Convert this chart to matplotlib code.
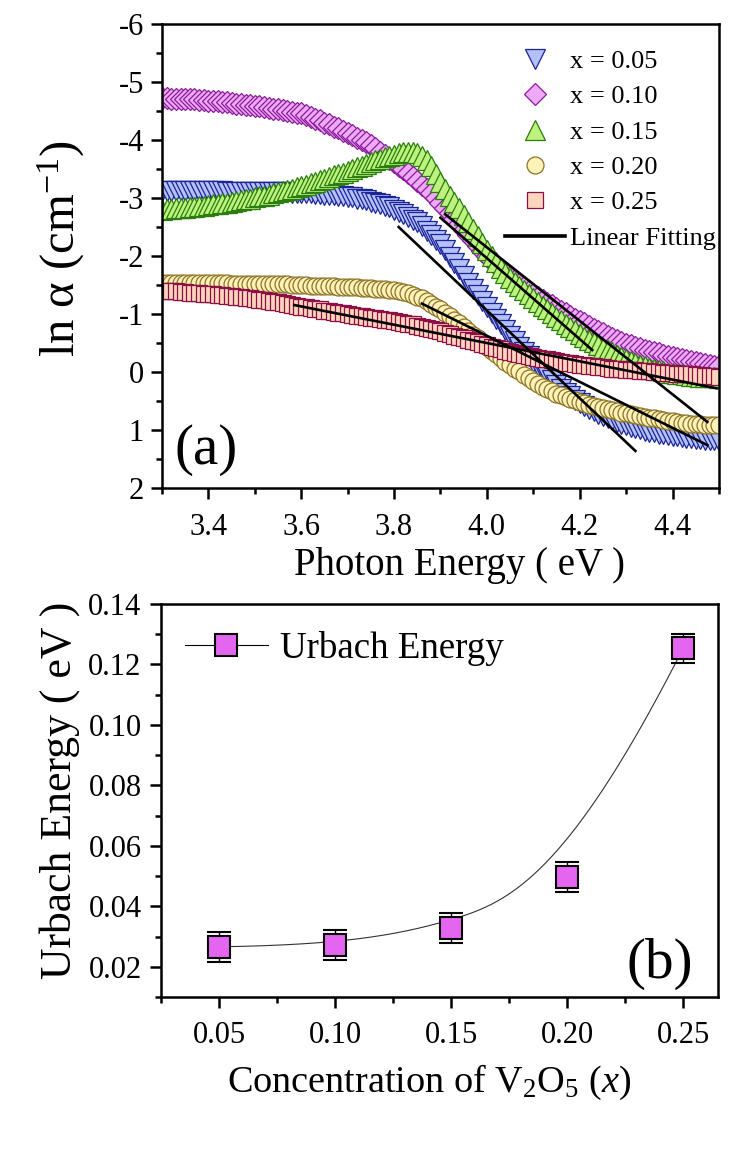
import numpy as np
import matplotlib
matplotlib.use("Agg")
import matplotlib.pyplot as plt
from matplotlib.lines import Line2D
from matplotlib.ticker import MultipleLocator, FormatStrFormatter

plt.rcParams["font.family"] = "Liberation Serif"
plt.rcParams["mathtext.fontset"] = "custom"
plt.rcParams["mathtext.rm"] = "Liberation Serif"
plt.rcParams["mathtext.it"] = "Liberation Serif:italic"
plt.rcParams["axes.unicode_minus"] = False

# photon energy grid of the absorption scans (eV)
energy = [3.30, 3.31, 3.32, 3.33, 3.34, 3.35, 3.36, 3.37, 3.38, 3.39, 3.40,
          3.41, 3.42, 3.43, 3.44, 3.45, 3.46, 3.47, 3.48, 3.49, 3.50,
          3.51, 3.52, 3.53, 3.54, 3.55, 3.56, 3.57, 3.58, 3.59, 3.60,
          3.61, 3.62, 3.63, 3.64, 3.65, 3.66, 3.67, 3.68, 3.69, 3.70,
          3.71, 3.72, 3.73, 3.74, 3.75, 3.76, 3.77, 3.78, 3.79, 3.80,
          3.81, 3.82, 3.83, 3.84, 3.85, 3.86, 3.87, 3.88, 3.89, 3.90,
          3.91, 3.92, 3.93, 3.94, 3.95, 3.96, 3.97, 3.98, 3.99, 4.00,
          4.01, 4.02, 4.03, 4.04, 4.05, 4.06, 4.07, 4.08, 4.09, 4.10,
          4.11, 4.12, 4.13, 4.14, 4.15, 4.16, 4.17, 4.18, 4.19, 4.20,
          4.21, 4.22, 4.23, 4.24, 4.25, 4.26, 4.27, 4.28, 4.29, 4.30,
          4.31, 4.32, 4.33, 4.34, 4.35, 4.36, 4.37, 4.38, 4.39, 4.40,
          4.41, 4.42, 4.43, 4.44, 4.45, 4.46, 4.47, 4.48, 4.49, 4.50]

# ln(alpha) for each V2O5 content
ln_a_005 = [-3.12, -3.12, -3.12, -3.12, -3.12, -3.12, -3.12, -3.12, -3.12, -3.12, -3.12,
            -3.12, -3.12, -3.12, -3.11, -3.11, -3.11, -3.11, -3.11, -3.11, -3.11,
            -3.11, -3.11, -3.10, -3.10, -3.10, -3.10, -3.10, -3.09, -3.09, -3.09,
            -3.08, -3.08, -3.07, -3.07, -3.06, -3.05, -3.05, -3.04, -3.03, -3.02,
            -3.01, -2.99, -2.98, -2.96, -2.94, -2.92, -2.89, -2.87, -2.84, -2.80,
            -2.76, -2.72, -2.68, -2.63, -2.58, -2.51, -2.43, -2.36, -2.28, -2.20,
            -2.10, -1.99, -1.88, -1.77, -1.65, -1.54, -1.44, -1.33, -1.22, -1.12,
            -1.02, -0.92, -0.82, -0.72, -0.62, -0.53, -0.44, -0.35, -0.27, -0.18,
            -0.10, -0.02, 0.06, 0.14, 0.22, 0.29, 0.36, 0.42, 0.48, 0.54,
            0.59, 0.64, 0.68, 0.72, 0.76, 0.80, 0.83, 0.86, 0.89, 0.92,
            0.94, 0.96, 0.99, 1.01, 1.03, 1.04, 1.06, 1.07, 1.09, 1.10,
            1.11, 1.12, 1.13, 1.14, 1.15, 1.16, 1.17, 1.17, 1.18, 1.19]
ln_a_010 = [-4.72, -4.72, -4.71, -4.71, -4.71, -4.70, -4.70, -4.70, -4.69, -4.69, -4.68,
            -4.67, -4.67, -4.66, -4.65, -4.64, -4.63, -4.62, -4.61, -4.60, -4.59,
            -4.58, -4.57, -4.55, -4.54, -4.53, -4.52, -4.50, -4.49, -4.47, -4.46,
            -4.43, -4.40, -4.37, -4.34, -4.30, -4.27, -4.23, -4.20, -4.16, -4.12,
            -4.08, -4.04, -4.00, -3.96, -3.92, -3.86, -3.80, -3.74, -3.68, -3.62,
            -3.56, -3.50, -3.44, -3.37, -3.30, -3.23, -3.16, -3.08, -3.00, -2.92,
            -2.83, -2.74, -2.64, -2.55, -2.45, -2.36, -2.27, -2.18, -2.09, -2.00,
            -1.92, -1.85, -1.78, -1.71, -1.64, -1.58, -1.52, -1.46, -1.40, -1.34,
            -1.29, -1.24, -1.19, -1.15, -1.10, -1.06, -1.01, -0.97, -0.92, -0.88,
            -0.84, -0.80, -0.75, -0.71, -0.67, -0.63, -0.59, -0.55, -0.52, -0.48,
            -0.46, -0.43, -0.41, -0.38, -0.36, -0.34, -0.32, -0.30, -0.28, -0.26,
            -0.24, -0.22, -0.21, -0.19, -0.17, -0.16, -0.14, -0.13, -0.11, -0.10]
ln_a_015 = [-2.80, -2.81, -2.81, -2.82, -2.82, -2.83, -2.84, -2.85, -2.86, -2.87, -2.88,
            -2.89, -2.90, -2.91, -2.92, -2.94, -2.95, -2.96, -2.98, -2.99, -3.01,
            -3.03, -3.04, -3.06, -3.08, -3.10, -3.12, -3.14, -3.16, -3.19, -3.21,
            -3.23, -3.26, -3.28, -3.31, -3.33, -3.36, -3.39, -3.41, -3.44, -3.47,
            -3.50, -3.53, -3.56, -3.59, -3.62, -3.65, -3.68, -3.70, -3.73, -3.75,
            -3.77, -3.79, -3.80, -3.80, -3.78, -3.73, -3.65, -3.55, -3.42, -3.28,
            -3.16, -3.04, -2.93, -2.82, -2.70, -2.58, -2.46, -2.34, -2.22, -2.10,
            -2.00, -1.90, -1.80, -1.71, -1.62, -1.55, -1.48, -1.41, -1.34, -1.27,
            -1.20, -1.14, -1.08, -1.01, -0.95, -0.89, -0.83, -0.77, -0.72, -0.66,
            -0.61, -0.56, -0.51, -0.47, -0.42, -0.38, -0.34, -0.30, -0.26, -0.22,
            -0.19, -0.16, -0.13, -0.10, -0.07, -0.05, -0.03, -0.01, 0.01, 0.02,
            0.03, 0.04, 0.05, 0.06, 0.07, 0.08, 0.08, 0.09, 0.09, 0.10]
ln_a_020 = [-1.54, -1.54, -1.54, -1.54, -1.54, -1.54, -1.53, -1.53, -1.53, -1.53, -1.53,
            -1.53, -1.53, -1.53, -1.53, -1.52, -1.52, -1.52, -1.52, -1.52, -1.52,
            -1.52, -1.52, -1.51, -1.51, -1.51, -1.51, -1.51, -1.50, -1.50, -1.50,
            -1.50, -1.49, -1.49, -1.49, -1.48, -1.48, -1.48, -1.47, -1.47, -1.47,
            -1.46, -1.46, -1.45, -1.45, -1.45, -1.44, -1.44, -1.43, -1.42, -1.41,
            -1.40, -1.38, -1.36, -1.33, -1.30, -1.27, -1.23, -1.18, -1.13, -1.08,
            -1.02, -0.96, -0.90, -0.84, -0.78, -0.71, -0.64, -0.58, -0.51, -0.44,
            -0.37, -0.31, -0.24, -0.18, -0.12, -0.06, -0.01, 0.05, 0.11, 0.16,
            0.21, 0.25, 0.29, 0.33, 0.37, 0.40, 0.43, 0.46, 0.49, 0.52,
            0.54, 0.56, 0.58, 0.60, 0.62, 0.64, 0.66, 0.68, 0.70, 0.71,
            0.73, 0.74, 0.76, 0.77, 0.79, 0.80, 0.81, 0.82, 0.84, 0.85,
            0.86, 0.87, 0.88, 0.89, 0.90, 0.90, 0.91, 0.91, 0.92, 0.92]
ln_a_025 = [-1.40, -1.40, -1.39, -1.39, -1.38, -1.38, -1.37, -1.37, -1.36, -1.35, -1.35,
            -1.34, -1.33, -1.32, -1.31, -1.31, -1.30, -1.29, -1.28, -1.27, -1.26,
            -1.25, -1.24, -1.23, -1.21, -1.20, -1.19, -1.17, -1.16, -1.14, -1.13,
            -1.12, -1.10, -1.09, -1.08, -1.06, -1.05, -1.04, -1.02, -1.01, -1.00,
            -0.99, -0.97, -0.96, -0.95, -0.94, -0.93, -0.92, -0.90, -0.89, -0.88,
            -0.86, -0.85, -0.83, -0.82, -0.80, -0.78, -0.76, -0.74, -0.72, -0.70,
            -0.68, -0.65, -0.63, -0.60, -0.58, -0.56, -0.53, -0.51, -0.48, -0.46,
            -0.44, -0.41, -0.39, -0.37, -0.35, -0.33, -0.31, -0.29, -0.28, -0.26,
            -0.24, -0.23, -0.22, -0.20, -0.19, -0.18, -0.16, -0.15, -0.14, -0.13,
            -0.12, -0.11, -0.10, -0.09, -0.08, -0.07, -0.06, -0.06, -0.05, -0.04,
            -0.03, -0.03, -0.02, -0.01, -0.01, 0.00, 0.00, 0.01, 0.01, 0.02,
            0.03, 0.03, 0.04, 0.04, 0.05, 0.05, 0.06, 0.07, 0.07, 0.08]

series_labels = ["x = 0.05", "x = 0.10", "x = 0.15", "x = 0.20", "x = 0.25"]

# linear fits of the Urbach tails: (E start, ln a start) -> (E end, ln a end)
fit_e0 = [3.81, 3.91, 3.90, 3.86, 3.585]
fit_v0 = [-2.50, -2.72, -2.66, -1.18, -1.155]
fit_e1 = [4.32, 4.475, 4.227, 4.475, 4.495]
fit_v1 = [1.36, 0.86, -0.38, 1.26, 0.28]

# Urbach energy vs V2O5 concentration
conc = [0.05, 0.10, 0.15, 0.20, 0.25]
urbach = [0.0266, 0.0272, 0.0327, 0.0498, 0.1254]
urbach_err = [0.0050, 0.0050, 0.0050, 0.0050, 0.0048]


def bspline(px, py, n=300, k=3):
    # clamped cubic B-spline using the points as control points
    px = np.asarray(px, float)
    py = np.asarray(py, float)
    m = len(px)
    knots = np.concatenate([np.zeros(k), np.linspace(0, 1, m - k + 1), np.ones(k)])
    t = np.linspace(0, 1 - 1e-9, n)

    def N(i, d):
        if d == 0:
            return ((knots[i] <= t) & (t < knots[i + 1])).astype(float)
        out = np.zeros_like(t)
        den = knots[i + d] - knots[i]
        if den > 0:
            out += (t - knots[i]) / den * N(i, d - 1)
        den = knots[i + d + 1] - knots[i + 1]
        if den > 0:
            out += (knots[i + d + 1] - t) / den * N(i + 1, d - 1)
        return out

    B = np.array([N(i, k) for i in range(m)])
    return B.T @ px, B.T @ py


def style_axes(ax):
    for s in ax.spines.values():
        s.set_linewidth(1.8)
    ax.tick_params(which="both", direction="out", top=False, right=False, width=1.8)
    ax.tick_params(which="major", length=8, labelsize=22)
    ax.tick_params(which="minor", length=4.5)


fig = plt.figure(figsize=(7.29, 11.62), dpi=100)

# ---- (a) ln(alpha) vs photon energy ----
ax1 = fig.add_axes([0.2222, 0.58, 0.764, 0.3993])
marker_styles = [("v", 14.5, "#b4c0f8", "#1c2596"),
                 ("D", 11.7, "#eeaaf8", "#8b1c9c"),
                 ("^", 14.5, "#bdf27e", "#2b7d0f"),
                 ("o", 12.2, "#fff2b8", "#8a7326"),
                 ("s", 11.5, "#fdd5bd", "#8c0f45")]
all_series = [ln_a_005, ln_a_010, ln_a_015, ln_a_020, ln_a_025]
handles = []
for vals, lab, (mk, ms, fc, ec) in zip(all_series, series_labels, marker_styles):
    h, = ax1.plot(energy, vals, linestyle="none", marker=mk, ms=ms, mfc=fc, mec=ec,
                  mew=0.9, label=lab)
    handles.append(h)

for e0, v0, e1, v1 in zip(fit_e0, fit_v0, fit_e1, fit_v1):
    ax1.plot([e0, e1], [v0, v1], color="black", lw=1.9, zorder=5)
handles.append(Line2D([], [], color="black", lw=2.6))

ax1.set_xlim(3.3, 4.5)
ax1.set_ylim(2, -6)
ax1.xaxis.set_major_locator(MultipleLocator(0.2))
ax1.xaxis.set_minor_locator(MultipleLocator(0.1))
ax1.xaxis.set_major_formatter(FormatStrFormatter("%.1f"))
ax1.yaxis.set_major_locator(MultipleLocator(1))
ax1.yaxis.set_minor_locator(MultipleLocator(0.5))
style_axes(ax1)
ax1.tick_params(axis="x", which="major", pad=10)
ax1.tick_params(axis="y", which="major", pad=5)

ax1.set_xlabel("Photon Energy ( eV )", fontsize=28)
ax1.xaxis.set_label_coords(0.535, -0.128)
ax1.xaxis.label.set_va("top")
ax1.set_ylabel("ln α (cm$^{-1}$)", fontsize=35)
ax1.yaxis.set_label_coords(-0.135, 0.517)
ax1.text(0.023, 0.082, "(a)", transform=ax1.transAxes, fontsize=41,
         ha="left", va="center")

ax1.legend(handles, series_labels + ["Linear Fitting"], loc="upper left",
           bbox_to_anchor=(0.616, 0.945), frameon=False, fontsize=19,
           borderpad=0, borderaxespad=0, handlelength=2.27, handletextpad=0.2,
           labelspacing=0.45, numpoints=1)

# ---- (b) Urbach energy vs concentration ----
ax2 = fig.add_axes([0.2209, 0.142, 0.764, 0.3382])
bx, by = bspline(conc, urbach)
ax2.plot(bx, by, color="#333333", lw=0.8, zorder=2)
ax2.errorbar(conc, urbach, yerr=urbach_err, fmt="s", ms=15.8, mfc="#e466f0",
             mec="black", mew=1.5, ecolor="black", elinewidth=1.0, capsize=8.5,
             capthick=1.0, zorder=3)

ax2.set_xlim(0.025, 0.265)
ax2.set_ylim(0.01, 0.14)
ax2.xaxis.set_major_locator(MultipleLocator(0.05))
ax2.xaxis.set_minor_locator(MultipleLocator(0.025))
ax2.xaxis.set_major_formatter(FormatStrFormatter("%.2f"))
ax2.yaxis.set_major_locator(MultipleLocator(0.02))
ax2.yaxis.set_minor_locator(MultipleLocator(0.01))
ax2.yaxis.set_major_formatter(FormatStrFormatter("%.2f"))
style_axes(ax2)
ax2.tick_params(axis="x", which="major", pad=9)
ax2.tick_params(axis="y", which="major", pad=6)

ax2.set_xlabel(r"Concentration of V$_2$O$_5$ ($\it{x}$)", fontsize=27.5)
ax2.xaxis.set_label_coords(0.481, -0.167)
ax2.xaxis.label.set_va("top")
ax2.set_ylabel("Urbach Energy ( eV )", fontsize=31.5)
ax2.yaxis.set_label_coords(-0.145, 0.527)
ax2.text(0.955, 0.084, "(b)", transform=ax2.transAxes, fontsize=41,
         ha="right", va="center")

leg_handle = Line2D([], [], color="black", lw=0.8, marker="s", ms=15.8,
                    mfc="#e466f0", mec="black", mew=1.5)
ax2.legend([leg_handle], ["Urbach Energy"], loc="center left",
           bbox_to_anchor=(0.043, 0.888), frameon=False, fontsize=26.6,
           borderpad=0, borderaxespad=0, handlelength=2.24, handletextpad=0.32,
           numpoints=1)

fig.savefig("out.png", dpi=100)
